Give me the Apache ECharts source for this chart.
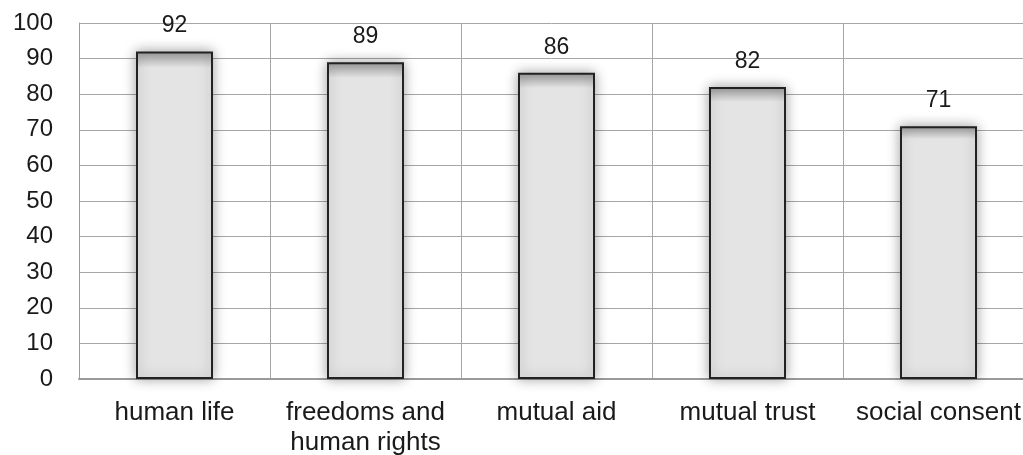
<!DOCTYPE html>
<html><head><meta charset="utf-8">
<script src="https://cdn.jsdelivr.net/npm/echarts@6/dist/echarts.min.js"></script>
<style>html,body{margin:0;padding:0;background:#fff}#c{width:1023px;height:455px}</style>
</head><body><div id="c"></div>
<script>
const categories = ['human life', 'freedoms and\nhuman rights', 'mutual aid', 'mutual trust', 'social consent'];
const values = [92, 89, 86, 82, 71];
const yTicks = {min: 0, max: 100, interval: 10};

const FONT = 'Liberation Sans, Arial, sans-serif';
const chart = echarts.init(document.getElementById('c'));
chart.setOption({
  animation: false,
  backgroundColor: '#fff',
  grid: {left: 79, width: 955, top: 23, height: 356, containLabel: false, outerBoundsMode: 'none'},
  xAxis: {
    type: 'category', data: categories, boundaryGap: true,
    axisLine: {show: true, lineStyle: {color: '#9a9a9a', width: 2}},
    axisTick: {show: false},
    splitLine: {show: true, lineStyle: {color: '#a6a6a6', width: 1}},
    axisLabel: {color: '#1a1a1a', fontSize: 26, fontFamily: FONT, margin: 19, lineHeight: 30, interval: 0, hideOverlap: false}
  },
  yAxis: {
    type: 'value', min: yTicks.min, max: yTicks.max, interval: yTicks.interval,
    axisLine: {show: true, lineStyle: {color: '#9a9a9a', width: 1}},
    axisTick: {show: false},
    splitLine: {show: true, lineStyle: {color: '#a6a6a6', width: 1}},
    axisLabel: {color: '#1a1a1a', fontSize: 24, fontFamily: FONT, margin: 26}
  },
  series: [{
    type: 'bar', data: values, barWidth: 77,
    itemStyle: {
      color: {type: 'linear', x: 0, y: 0, x2: 0, y2: 1, colorStops: [
        {offset: 0, color: '#9a9a9a'}, {offset: 0.03, color: '#c8c8c8'}, {offset: 0.05, color: '#e4e4e4'}, {offset: 1, color: '#e4e4e4'}]},
      borderColor: '#222', borderWidth: 2,
      shadowColor: 'rgba(0,0,0,0.35)', shadowBlur: 12, shadowOffsetX: 0, shadowOffsetY: 0
    },
    label: {show: true, position: 'top', distance: 14, color: '#1a1a1a', fontSize: 23, fontFamily: FONT}
  }]
});
</script></body></html>
